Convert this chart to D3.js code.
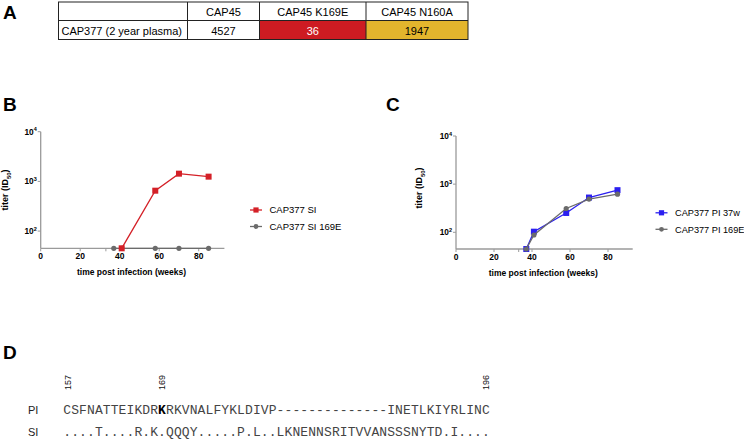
<!DOCTYPE html>
<html><head><meta charset="utf-8">
<script src="https://cdn.jsdelivr.net/npm/d3@7"></script>
<style>body{margin:0;background:#fff}svg{display:block}</style>
</head><body>
<script>
// ---- data ----
const tableColumns = ["CAP45", "CAP45 K169E", "CAP45 N160A"];
const tableRowLabel = "CAP377 (2 year plasma)";
const tableValues = [4527, 36, 1947];

const weeksB_SI = [41, 58, 70, 85];
const titerB_SI = [45, 650, 1430, 1245];
const weeksB_SI169E = [37, 41, 58, 70, 85];
const titerB_SI169E = [45, 45, 45, 45, 45];

const weeksC_PI37 = [37, 41, 58, 70, 85];
const titerC_PI37 = [45, 103, 252, 527, 750];
const weeksC_PI169E = [37, 41, 58, 70, 85];
const titerC_PI169E = [45, 88, 312, 490, 620];

const xTicks = [0, 20, 40, 60, 80];
const yTickExps = [2, 3, 4];

const seqNumbers = [157, 169, 196];
const seqNumberIdx = [0, 12, 53];
const seqPI = "CSFNATTEIKDRKRKVNALFYKLDIVP--------------INETLKIYRLINC";
const seqSI = "....T....R.K.QQQY.....P.L..LKNENNSRITVVANSSSNYTD.I....";
const boldIdx = 12;

// ---- drawing ----
const W = 744, H = 439;
const svg = d3.select("body").append("svg").attr("width", W).attr("height", H);
const sans = "Liberation Sans, Arial, sans-serif";
const mono = "Liberation Mono, Courier New, monospace";

function letter(t, x, y) {
  svg.append("text").attr("x", x).attr("y", y).text(t)
    .attr("font-family", sans).attr("font-weight", "bold").attr("font-size", 19);
}
letter("A", 3, 18.5);
letter("B", 3, 110.5);
letter("C", 386, 110.5);
letter("D", 3, 358.5);

// ---- table ----
const colEdges = [58.5, 187.5, 259.5, 366, 468];
const rowEdges = [2, 20.5, 39.5];
const cellFill = ["#ffffff", "#cd1b22", "#e3b52d"];
const cellText = ["#000", "#fff", "#000"];
const tg = svg.append("g");
tableValues.forEach((v, i) => {
  tg.append("rect").attr("x", colEdges[i + 1]).attr("y", rowEdges[1])
    .attr("width", colEdges[i + 2] - colEdges[i + 1]).attr("height", rowEdges[2] - rowEdges[1])
    .attr("fill", cellFill[i]);
});
tg.append("rect").attr("x", colEdges[0]).attr("y", rowEdges[0])
  .attr("width", colEdges[4] - colEdges[0]).attr("height", rowEdges[2] - rowEdges[0])
  .attr("fill", "none").attr("stroke", "#222").attr("stroke-width", 1);
tg.append("line").attr("x1", colEdges[0]).attr("x2", colEdges[4]).attr("y1", rowEdges[1]).attr("y2", rowEdges[1])
  .attr("stroke", "#222").attr("stroke-width", 1);
colEdges.slice(1, 4).forEach(x => tg.append("line").attr("x1", x).attr("x2", x)
  .attr("y1", rowEdges[0]).attr("y2", rowEdges[2]).attr("stroke", "#222").attr("stroke-width", 1));
tableColumns.forEach((c, i) => {
  tg.append("text").attr("x", (colEdges[i + 1] + colEdges[i + 2]) / 2).attr("y", 15.5)
    .attr("text-anchor", "middle").attr("font-family", sans).attr("font-size", 11).text(c);
});
tg.append("text").attr("x", colEdges[0] + 3).attr("y", 34.5).attr("font-family", sans)
  .attr("font-size", 11).text(tableRowLabel);
tableValues.forEach((v, i) => {
  tg.append("text").attr("x", (colEdges[i + 1] + colEdges[i + 2]) / 2).attr("y", 34.5)
    .attr("text-anchor", "middle").attr("font-family", sans).attr("font-size", 11)
    .attr("fill", cellText[i]).text(v);
});

// ---- line charts ----
function chart(opt) {
  const g = svg.append("g");
  const x = d3.scaleLinear().domain([0, 93]).range([opt.x0, opt.x1]);
  const y = d3.scaleLog().domain([45, 10000]).range([opt.y0, opt.y1]);
  const axisCol = "#9a9a9a";
  // x axis
  g.append("line").attr("x1", x(0)).attr("x2", x(93)).attr("y1", y(45)).attr("y2", y(45))
    .attr("stroke", axisCol).attr("stroke-width", 1.3);
  xTicks.concat([33]).forEach(t => g.append("line").attr("x1", x(t)).attr("x2", x(t))
    .attr("y1", y(45)).attr("y2", y(45) + 3).attr("stroke", axisCol).attr("stroke-width", 1));
  xTicks.forEach(t => g.append("text").attr("x", x(t)).attr("y", y(45) + 11)
    .attr("text-anchor", "middle").attr("font-family", sans).attr("font-weight", "bold")
    .attr("font-size", 8.5).text(t));
  // y axis
  g.append("line").attr("x1", x(0)).attr("x2", x(0)).attr("y1", y(45)).attr("y2", y(10000))
    .attr("stroke", axisCol).attr("stroke-width", 1.3);
  yTickExps.forEach(e => {
    const yy = y(Math.pow(10, e));
    g.append("line").attr("x1", x(0) - 3).attr("x2", x(0)).attr("y1", yy).attr("y2", yy)
      .attr("stroke", axisCol).attr("stroke-width", 1);
    const t = g.append("text").attr("x", x(0) - 4).attr("y", yy + 3).attr("text-anchor", "end")
      .attr("font-family", sans).attr("font-weight", "bold").attr("font-size", 8.3);
    t.append("tspan").text("10");
    t.append("tspan").attr("font-size", 5.5).attr("dy", -3.5).text(e);
  });
  // axis titles
  const yl = g.append("text").attr("transform", `translate(${opt.ylx},${opt.yly}) rotate(-90)`)
    .attr("text-anchor", "middle").attr("font-family", sans).attr("font-weight", "bold").attr("font-size", 9);
  yl.append("tspan").text("titer (ID");
  yl.append("tspan").attr("font-size", 6).attr("dy", 2.5).text("50");
  yl.append("tspan").attr("dy", -2.5).text(")");
  g.append("text").attr("x", (x(0) + x(93)) / 2 - 1).attr("y", y(45) + 27).attr("text-anchor", "middle")
    .attr("font-family", sans).attr("font-weight", "bold").attr("font-size", 8.5)
    .text("time post infection (weeks)");
  // series
  const line = d3.line().x(d => x(d[0])).y(d => y(d[1]));
  opt.series.forEach(s => {
    const pts = s.wx.map((w, i) => [w, s.ty[i]]);
    g.append("path").attr("d", line(pts)).attr("fill", "none").attr("stroke", s.color).attr("stroke-width", 1.3);
    pts.forEach(p => {
      if (s.shape === "square") g.append("rect").attr("x", x(p[0]) - 3).attr("y", y(p[1]) - 3)
        .attr("width", 6).attr("height", 6).attr("fill", s.color);
      else g.append("circle").attr("cx", x(p[0])).attr("cy", y(p[1])).attr("r", 2.6).attr("fill", s.color);
    });
  });
  // legend
  opt.legend.forEach((s, i) => {
    const ly = opt.legY + i * 16.5;
    g.append("line").attr("x1", opt.legX).attr("x2", opt.legX + 12).attr("y1", ly).attr("y2", ly)
      .attr("stroke", s.color).attr("stroke-width", 1.3);
    const cx = opt.legX + 6;
    if (s.shape === "square") g.append("rect").attr("x", cx - 2.6).attr("y", ly - 2.6).attr("width", 5.2)
      .attr("height", 5.2).attr("fill", s.color);
    else g.append("circle").attr("cx", cx).attr("cy", ly).attr("r", 2.4).attr("fill", s.color);
    g.append("text").attr("x", opt.legX + 19.5).attr("y", ly + 3.4).attr("font-family", sans)
      .attr("font-size", opt.legFont).text(s.name);
  });
}

const red = "#d42027", grey = "#6b6b6b", blue = "#2b1ff0";
const sB1 = {name: "CAP377 SI", color: red, shape: "square", wx: weeksB_SI, ty: titerB_SI};
const sB2 = {name: "CAP377 SI 169E", color: grey, shape: "circle", wx: weeksB_SI169E, ty: titerB_SI169E};
chart({x0: 40.7, x1: 224.4, y0: 248.3, y1: 131.7, ylx: 8, yly: 190,
  series: [sB2, sB1], legend: [sB1, sB2], legX: 250, legY: 210, legFont: 9.5});

const sC1 = {name: "CAP377 PI 37w", color: blue, shape: "square", wx: weeksC_PI37, ty: titerC_PI37};
const sC2 = {name: "CAP377 PI 169E", color: grey, shape: "circle", wx: weeksC_PI169E, ty: titerC_PI169E};
chart({x0: 456, x1: 632.7, y0: 249, y1: 136, ylx: 422, yly: 188,
  series: [sC1, sC2], legend: [sC1, sC2], legX: 655.5, legY: 212.8, legFont: 9.2});

// ---- sequence alignment ----
const seqX0 = 63.3, cw = 7.9;
const dg = svg.append("g");
seqNumbers.forEach((n, i) => {
  const cx = seqX0 + (seqNumberIdx[i] + 0.5) * cw + 3.4;
  dg.append("text").attr("transform", `translate(${cx},390) rotate(-90)`)
    .attr("font-family", sans).attr("font-size", 9).attr("fill", "#111").text(n);
});
[["PI", seqPI, 413.5], ["SI", seqSI, 435.5]].forEach(([lab, seq, yy]) => {
  dg.append("text").attr("x", 28).attr("y", yy).attr("font-family", sans).attr("font-size", 11)
    .attr("fill", "#222").text(lab);
  const t = dg.append("text").attr("x", seqX0).attr("y", yy).attr("font-family", mono)
    .attr("font-size", 13).attr("fill", "#444");
  seq.split("").forEach((ch, i) => {
    t.append("tspan").attr("x", seqX0 + i * cw)
      .attr("font-weight", (lab === "PI" && i === boldIdx) ? "bold" : null)
      .attr("fill", (lab === "PI" && i === boldIdx) ? "#000" : null).text(ch);
  });
});
</script>
</body></html>
